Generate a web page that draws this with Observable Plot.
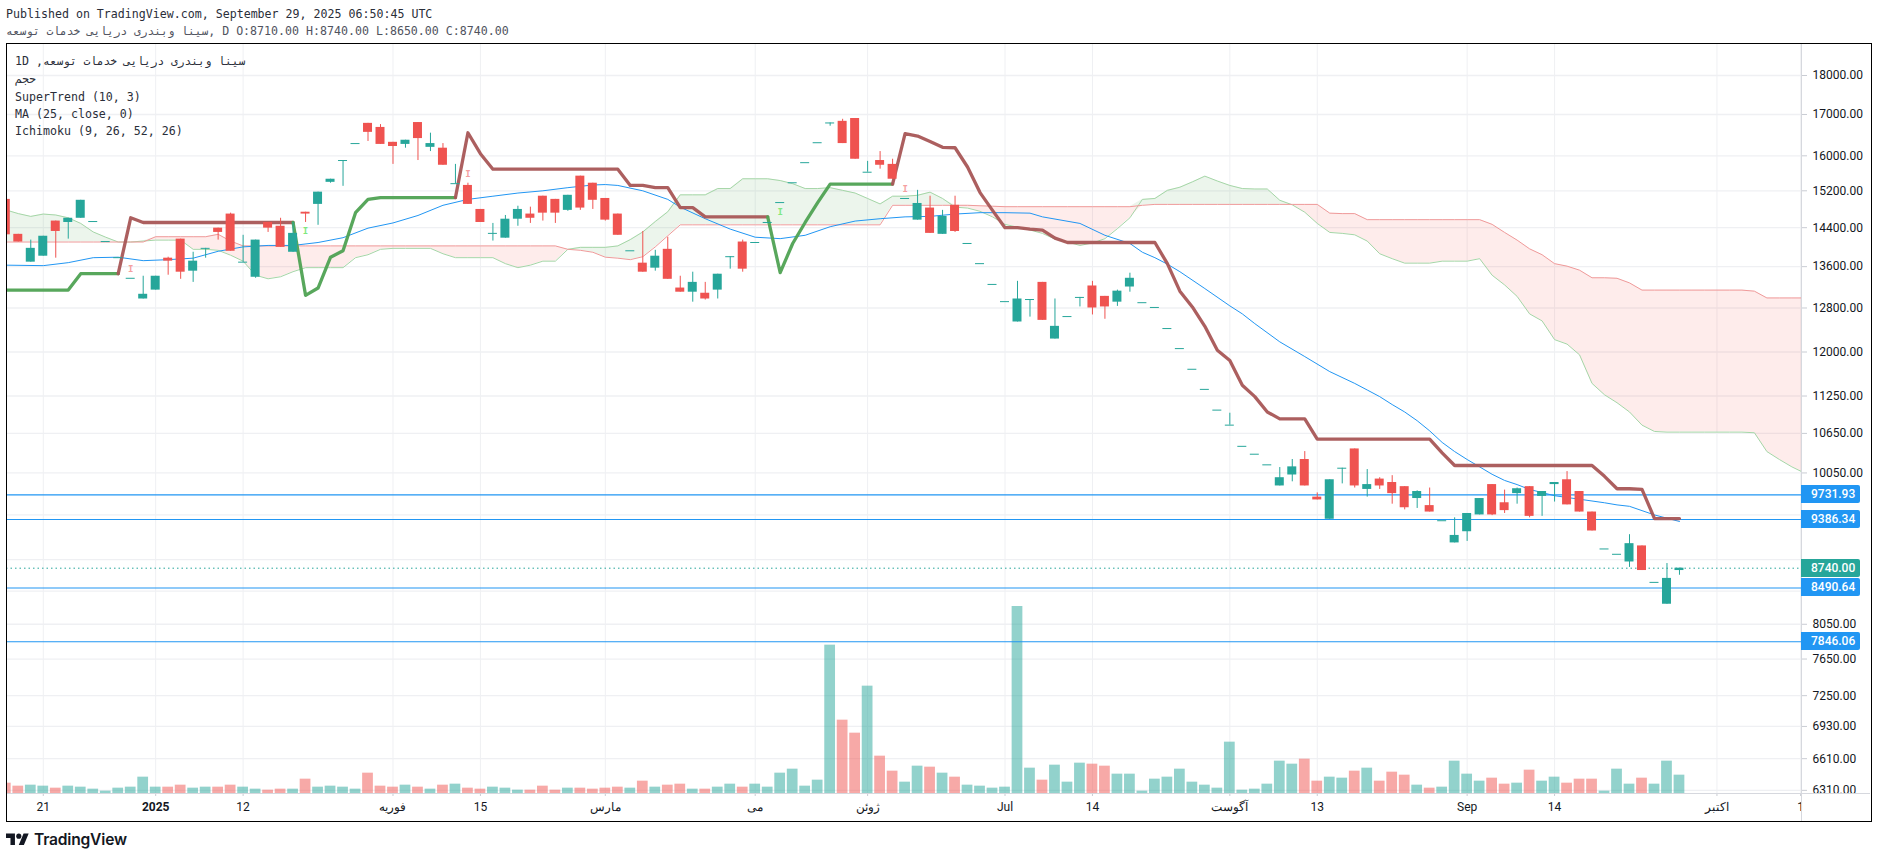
<!DOCTYPE html>
<html>
<head>
<meta charset="utf-8">
<script src="https://cdn.jsdelivr.net/npm/d3@7"></script>
<script src="https://cdn.jsdelivr.net/npm/@observablehq/plot@0.6"></script>
<style>
html,body{margin:0;padding:0;background:#fff;width:1878px;height:858px;overflow:hidden}
#stage{position:relative;width:1878px;height:858px;font-family:"DejaVu Sans Mono",monospace;color:#131722}
#stage svg.layer{position:absolute;left:0;top:0}
.frame{position:absolute;left:6px;top:43px;width:1864px;height:777px;border:1px solid #000;box-sizing:content-box;pointer-events:none}
.vline{position:absolute;left:1801px;top:44px;width:1px;height:777px;background:#d6d8de}
.hline{position:absolute;left:7px;top:793px;width:1863px;height:1px;background:#d6d8de}
.txt{position:absolute;white-space:pre;font-size:11.62px;line-height:17px;left:6px;color:#2a2e39;direction:ltr}
.txt .ar{font-size:11.2px}
.leg{left:15px}
.price{position:absolute;left:1801px;width:59px;height:18px;line-height:18px;color:#fff;font:500 12px/18px Roboto,sans-serif;padding-left:10px;box-sizing:border-box;border-radius:0 2px 2px 0}
#logo{position:absolute;left:6px;top:831px;display:flex;align-items:center;gap:5px;font:600 15.6px/18px Inter,sans-serif;color:#131722;letter-spacing:-.2px}
</style>
</head>
<body>
<div id="stage"></div>
<script>
// Price of every daily bar, oldest first
const open = [15010,14260,13690,13810,14540,14510,14600,14530,14110,13780,13370,12970,13140,13770,14160,13510,13970,14390,14690,13690,13390,14510,14430,13890,14730,14900,15390,15890,16290,16780,16680,16320,16270,16800,16200,16180,15360,15320,14790,14280,14180,14580,14690,15080,15010,14770,15530,15370,15030,14690,13920,13670,13570,13950,13180,13100,13080,13140,13800,14100,14090,14510,14940,15380,15840,16310,16790,16830,16900,15620,15890,15800,15030,14560,14820,14260,14880,14070,13660,13250,12920,12540,12960,13290,12230,12640,13000,13220,13020,12910,13200,12900,12810,12420,12060,11700,11360,11020,10780,10450,10330,10170,9860,10020,10250,9700,9390,10120,10410,9810,9960,9910,9850,9680,9580,9370,9070,9220,9450,9880,9620,9750,9850,9710,9880,9950,9780,9490,8990,8920,8820,9030,8560,8290,8710];
const high = [15010,14260,14140,14220,14540,14600,14990,14530,14110,13780,13370,13410,13410,13790,14160,13890,13970,14390,14710,14240,14140,14510,14600,14510,14730,15170,15460,15890,16290,16780,16750,16320,16370,16800,16540,16290,15800,15370,14790,14490,14660,14860,14840,15080,15010,15100,15530,15370,15030,14690,13920,14320,13930,14200,13410,13490,13290,13450,13800,14140,14090,14510,14940,15380,15840,16310,16790,16880,16900,15870,16100,15920,15030,15210,15080,14770,15080,14070,13660,13250,12920,13310,12960,13290,12970,12640,13000,13310,13020,13140,13470,12900,12810,12420,12060,11700,11360,11020,10970,10450,10330,10170,10130,10250,10370,9760,9950,10120,10410,10100,9980,10010,9850,9790,9830,9370,9410,9470,9680,9880,9800,9830,9850,9780,9910,10070,9780,9490,8990,8920,9180,9030,8560,8800,8740];
const low = [14250,14100,13690,13810,13770,14160,14600,14530,14110,13780,13370,12970,13140,13430,13350,13290,13770,14140,13910,13690,13370,14300,13990,13890,14510,14450,15370,15300,16290,16340,16270,15800,16180,15890,16100,15780,15360,14900,14510,14120,14180,14430,14490,14540,14490,14750,14770,14790,14540,14240,13920,13490,13510,13350,13100,12910,12950,12970,13550,13490,14090,14510,14940,15380,15840,16310,16710,16290,15920,15620,15690,15460,15030,14560,14280,14260,14300,14070,13660,13250,12920,12540,12630,12570,12230,12640,12820,12670,12590,12830,13100,12900,12810,12420,12060,11700,11360,11020,10780,10450,10330,10170,9860,9920,9860,9660,9390,9890,9830,9700,9810,9600,9520,9540,9490,9370,9070,9090,9450,9440,9470,9600,9410,9430,9630,9590,9490,9230,8990,8920,8750,8710,8560,8290,8650];
const close = [14250,14100,13970,14220,14320,14600,14990,14530,14110,13780,13370,13060,13410,13710,13490,13710,13970,14300,13910,13690,14140,14390,13990,14280,14690,15170,15460,15890,16290,16560,16270,16220,16370,16410,16290,15780,15360,14900,14510,14280,14580,14790,14600,14710,14710,15100,14820,14990,14560,14240,13920,13490,13810,13350,13100,13290,12970,13450,13800,13550,14090,14510,14940,15380,15840,16310,16790,16290,15920,15620,15780,15460,15030,14920,14280,14640,14320,14070,13660,13250,12920,12970,12960,12570,12460,12640,13000,12800,12820,13120,13370,12900,12810,12420,12060,11700,11360,11020,10780,10450,10330,10170,9980,10140,9860,9660,9950,10120,9860,9880,9860,9750,9550,9780,9490,9370,9170,9470,9680,9450,9510,9820,9430,9780,9910,9590,9490,9230,8990,8920,9060,8710,8560,8610,8740];
// Volume bars, read in arbitrary units off the lower part of the pane
const volume = [31,22,25,22,16,22,19,13,7,16,19,49,19,19,25,16,19,19,25,19,13,10,13,13,43,19,22,19,13,61,22,19,25,19,13,25,28,16,13,19,16,10,10,22,10,16,16,13,16,19,16,37,19,25,28,13,13,19,28,19,28,19,61,73,22,40,445,220,181,322,112,67,34,82,79,61,49,25,22,16,19,561,76,40,85,34,91,88,82,58,58,7,43,49,73,34,25,16,154,10,13,28,97,88,103,37,49,46,67,76,37,64,55,25,16,19,97,58,37,46,28,31,70,37,49,31,43,43,7,73,28,46,28,97,55];
// SuperTrend (10, 3)
const superTrend = [13140,13140,13140,13140,13140,13140,13460,13460,13460,13460,14610,14510,14510,14510,14510,14510,14510,14510,14510,14510,14510,14510,14510,14510,13040,13180,13790,13920,14720,15010,15050,15050,15050,15050,15050,15050,15050,16550,16050,15690,15690,15690,15690,15690,15690,15690,15690,15690,15690,15690,15320,15320,15270,15270,14830,14830,14630,14630,14630,14630,14630,14630,13480,14070,14510,14940,15350,15350,15350,15350,15350,15350,16530,16470,16340,16200,16190,15740,15160,14770,14400,14400,14370,14350,14180,14090,14090,14090,14090,14090,14090,14090,14090,13660,13120,12820,12460,12030,11850,11430,11240,10990,10880,10880,10880,10560,10560,10560,10560,10560,10560,10560,10560,10560,10560,10350,10160,10160,10160,10160,10160,10160,10160,10160,10160,10160,10160,10160,10000,9820,9820,9810,9400,9400,9400];
const trendFrom = [0,9,23,36,61,71];
const trendTo = [9,23,36,61,71,134];
const trendUp = [true,false,true,false,true,false];
// Small signal marks of the SuperTrend study
const signalBar = [10,24,37,62,72];
const signalPrice = [13550,14330,15570,14740,15230];
const signalUp = [false,true,false,true,false];
// MA (25, close, 0)
const maBar = [0,3,5,7,9,11,13,15,17,19,21,23,25,27,29,31,33,35,37,39,41,43,45,47,48,49,51,53,54,56,58,60,62,64,66,68,70,72,74,76,78,80,82,83,86,88,90,91,92,93,94,96,98,99,100,102,104,106,108,109,110,111,112,113,114,115,116,117,118,119,120,121,122,124,126,128,129,130,132,134];
const maValue = [13630,13620,13680,13780,13790,13720,13740,13770,13910,14000,14030,14030,14090,14190,14390,14500,14660,14880,15010,15080,15150,15200,15270,15330,15340,15320,15200,15010,14840,14590,14370,14200,14170,14240,14420,14540,14590,14630,14640,14690,14720,14720,14710,14630,14490,14240,14070,13890,13780,13650,13500,13170,12840,12690,12510,12180,11920,11660,11460,11350,11240,11110,10990,10850,10690,10510,10370,10250,10140,10030,9940,9880,9810,9720,9670,9620,9590,9570,9450,9360];
// Ichimoku (9, 26, 52, 26) cloud, running 26 bars past the last close
const leadA = [14780,14700,14640,14690,14670,14610,14490,14310,14200,14100,14100,14120,14140,14140,14140,13950,13950,13930,13830,13710,13430,13360,13400,13500,13580,13580,13580,13580,13780,13840,13950,13970,13970,13970,13970,13860,13780,13780,13780,13780,13660,13580,13630,13710,13710,13950,13990,13990,13990,14020,14150,14310,14530,14740,15110,15110,15110,15250,15250,15470,15470,15470,15430,15360,15250,15250,15270,15210,15150,15030,14910,15080,15080,15100,15170,15030,14840,14820,14750,14630,14470,14410,14350,14280,14160,14100,14030,14080,14170,14380,14610,15010,15030,15210,15280,15400,15530,15420,15320,15250,15240,15240,14990,14890,14730,14490,14300,14280,14250,14120,13860,13760,13670,13670,13670,13710,13710,13710,13760,13430,13240,13020,12690,12560,12220,12140,11950,11460,11270,11140,10990,10780,10680,10670,10670,10670,10670,10670,10670,10670,10660,10370,10250,10140,10050];
const leadB = [14100,14100,14100,14100,14100,14100,14100,14100,14100,14100,14100,14100,14210,14210,14210,14210,14210,14260,14120,14020,14020,14020,14020,14020,14020,14020,14020,14020,14020,14020,14020,14020,14020,14020,14020,14020,14020,14020,14020,14020,14020,14020,14020,14020,14020,13950,13930,13890,13790,13770,13740,13800,14000,14230,14460,14460,14460,14460,14460,14460,14460,14460,14460,14460,14460,14460,14460,14460,14460,14460,14460,14880,14880,14880,14880,14880,14880,14880,14870,14860,14850,14850,14850,14850,14850,14850,14850,14850,14850,14850,14850,14880,14900,14900,14900,14900,14900,14900,14900,14900,14900,14900,14900,14900,14900,14900,14710,14700,14700,14570,14570,14570,14570,14570,14570,14570,14570,14570,14570,14470,14300,14140,13960,13840,13660,13610,13530,13380,13380,13370,13280,13140,13140,13140,13140,13140,13140,13140,13140,13140,13120,12990,12990,12990,12990];
// Horizontal levels and axes
const levels = [9731.93,9386.34,8490.64,7846.06];
const lastClose = 8740;
const priceTicks = [18000,17000,16000,15200,14400,13600,12800,12000,11250,10650,10050,9450,8850,8450,8050,7650,7250,6930,6610,6310];
const timeTicks = [3,12,19,31,38,48,60,69,80,87,98,105,117,124,137,143.7];
const timeLabels = ["21","2025","12","فوریه","15","مارس","می","ژوئن","Jul","14","آگوست","13","Sep","14","اکتبر","1"];
const boldTimeTicks = [12];
const stockName = "توسعه\u200E \u200Eخدمات\u200E \u200Eدریایی\u200E \u200Eوبندری\u200E \u200Eسینا\u200E";

const UP = "#26a69a", DOWN = "#ef5350", BLUE = "#2196f3";
const bars = open.map((o,i) => ({i, o, h:high[i], l:low[i], c:close[i], v:volume[i], x1:i-0.36, x2:i+0.36, vx1:i-0.43, vx2:i+0.43, col: close[i] >= o ? UP : DOWN}));
const bodies = bars.filter(d => d.o !== d.c);
const flats = bars.filter(d => d.o === d.c);
const cloud = leadA.map((a,i) => ({i, a, b:leadB[i]}));
const stRows = trendFrom.flatMap((f,s) => d3.range(f, trendTo[s]+1).map(i => ({i, v:superTrend[i], seg:s, col: trendUp[s] ? "#4fa253" : "#a85656"})));
const maRows = maBar.map((i,k) => ({i, v:maValue[k]}));
const signals = signalBar.map((i,k) => ({i, p:signalPrice[k], col: signalUp[k] ? "#7fe87f" : "#f5a0a0"}));
const labelFor = new Map(timeTicks.map((t,k) => [t, timeLabels[k]]));
const plainTicks = timeTicks.filter(t => !boldTimeTicks.includes(t));

const geom = {width:1878, height:858, marginTop:44, marginBottom:65, marginLeft:6, marginRight:77};
const xScale = {type:"linear", domain:[0.056,143.77]};
const stage = document.getElementById("stage");

// Volume sits in its own linear y scale under the price pane
const volumePlot = Plot.plot({
  ...geom,
  style:{background:"transparent"},
  x:{...xScale, axis:null},
  y:{type:"linear", domain:[0,2247], axis:null},
  marks:[
    Plot.ruleX(timeTicks,{stroke:"#eff0f3"}),
    Plot.ruleY(priceTicks.map(p => (Math.log(18837/p)/Math.log(18837/6281)) * -2247 + 2247),{stroke:"#eff0f3",strokeWidth:1.3}),
    Plot.rect(bars,{x1:"vx1",x2:"vx2",y1:() => 0,y2:"v",fill:"col",fillOpacity:0.5,clip:true})
  ]
});
volumePlot.classList.add("layer");
stage.appendChild(volumePlot);

const pricePlot = Plot.plot({
  ...geom,
  style:{background:"transparent",fontFamily:"Roboto, 'Noto Sans', sans-serif",fontSize:"12px",color:"#131722"},
  x:{...xScale},
  y:{type:"log", domain:[6281,18837]},
  marks:[
    Plot.areaY(cloud,{x:"i",y1:"b",y2:d => Math.max(d.a,d.b),fill:"#43a047",fillOpacity:0.1,clip:true}),
    Plot.areaY(cloud,{x:"i",y1:"b",y2:d => Math.min(d.a,d.b),fill:"#f44336",fillOpacity:0.1,clip:true}),
    Plot.lineY(cloud,{x:"i",y:"a",stroke:"#a5d6a7",strokeWidth:1,clip:true}),
    Plot.lineY(cloud,{x:"i",y:"b",stroke:"#ef9a9a",strokeWidth:1,clip:true}),
    Plot.lineY(maRows,{x:"i",y:"v",stroke:BLUE,strokeWidth:1,clip:true}),
    Plot.ruleY(levels,{stroke:BLUE,strokeWidth:1.1}),
    Plot.ruleY([lastClose],{stroke:UP,strokeWidth:1,strokeDasharray:"1.5,3"}),
    Plot.line(stRows,{x:"i",y:"v",z:"seg",stroke:"col",strokeWidth:3.3,strokeOpacity:0.95,clip:true}),
    Plot.text(signals,{x:"i",y:"p",text:() => "I",fill:"col",fontSize:9,fontWeight:700,fontFamily:"DejaVu Sans Mono"}),
    Plot.ruleX(bars,{x:"i",y1:"l",y2:"h",stroke:"col",strokeWidth:1,clip:true}),
    Plot.rect(bodies,{x1:"x1",x2:"x2",y1:"o",y2:"c",fill:"col",clip:true}),
    Plot.ruleY(flats,{x1:"x1",x2:"x2",y:"c",stroke:"col",strokeWidth:1,clip:true}),
    Plot.axisY({anchor:"right",ticks:priceTicks,tickFormat:d => d.toFixed(2),tickSize:5,tickPadding:6,label:null,stroke:"#c9ccd3",fill:"#131722"}),
    Plot.axisX({anchor:"bottom",ticks:plainTicks,tickFormat:d => labelFor.get(d),tickSize:3,tickPadding:6,label:null,stroke:"#c9ccd3",fill:"#131722"}),
    Plot.axisX({anchor:"bottom",ticks:boldTimeTicks,tickFormat:d => labelFor.get(d),tickSize:3,tickPadding:6,label:null,stroke:"#c9ccd3",fill:"#131722",fontWeight:700})
  ]
});
pricePlot.classList.add("layer");
stage.appendChild(pricePlot);

function add(cls, css, text){
  const e = document.createElement("div");
  e.className = cls;
  e.style.cssText = css;
  if (text !== undefined) e.textContent = text;
  stage.appendChild(e);
  return e;
}
function addName(cls, css, before, after){
  const e = add(cls, css);
  const s = document.createElement("span");
  s.className = "ar";
  s.textContent = stockName;
  e.append(before, s, after);
}
add("vline","");
add("hline","");
add("frame","");

// Price tags on the axis, placed with the plot's own y scale
const yOf = pricePlot.scale("y");
levels.forEach(v => add("price",`top:${yOf.apply(v)-9}px;background:${BLUE}`,v.toFixed(2)));
add("price",`top:${yOf.apply(lastClose)-9}px;background:${UP}`,lastClose.toFixed(2));

add("txt","top:6px","Published on TradingView.com, September 29, 2025 06:50:45 UTC");
addName("txt","top:23px;color:#50535e","",", D O:8710.00 H:8740.00 L:8650.00 C:8740.00");
addName("txt leg","top:53px","1D ,","");
[["حجم",71],["SuperTrend (10, 3)",89],["MA (25, close, 0)",106],["Ichimoku (9, 26, 52, 26)",123]]
  .forEach(([t,y]) => add("txt leg",`top:${y}px`,t));

const logo = add("","");
logo.id = "logo";
logo.innerHTML = '<svg width="23" height="18" viewBox="0 0 36 28" fill="#131722"><path d="M14 22H7V11H0V4h14v18zM28 22h-8l7.5-18h8L28 22z"/><circle cx="20" cy="8" r="4"/></svg><span>TradingView</span>';
</script>
</body>
</html>
